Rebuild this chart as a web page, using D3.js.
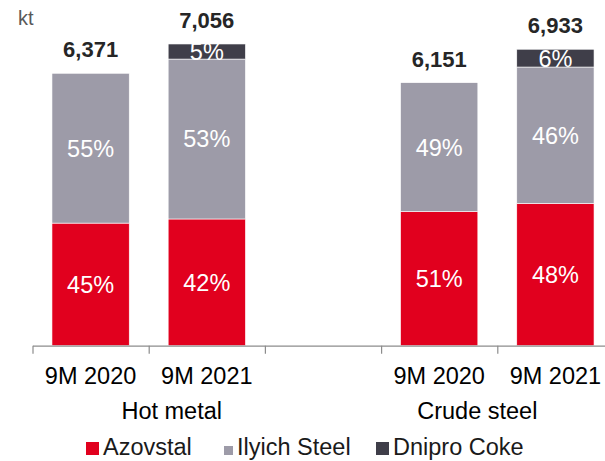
<!DOCTYPE html>
<html>
<head>
<meta charset="utf-8">
<script src="https://cdn.jsdelivr.net/npm/d3@7"></script>
<style>
  body { margin: 0; background: #fff; }
  text { font-family: "Liberation Sans", Arial, sans-serif; }
</style>
</head>
<body>
<div id="vis1"></div>
<script>
// data
var periods = ["9M 2020", "9M 2021", "9M 2020", "9M 2021"];
var groups = ["Hot metal", "Crude steel"];
var slots = [0, 1, 3, 4];            // slot 2 is the empty gap between the groups
var totals = [6371, 7056, 6151, 6933];
var azovstal = [45, 42, 51, 48];     // % of total
var ilyich = [55, 53, 49, 46];
var dnipro = [0, 5, 0, 6];
var seriesNames = ["Azovstal", "Ilyich Steel", "Dnipro Coke"];
var seriesColors = ["#e1001e", "#9d9ba8", "#3f3e49"];

var w = 605, h = 461;
var base = 345.7;

var svg = d3.select("#vis1")
    .append("svg")
    .attr("width", w)
    .attr("height", h);

var xs = d3.scaleLinear().domain([0, 5]).range([32.5, 613.5]);
var step = xs(1) - xs(0);
var barW = step * 0.665;
var y = d3.scaleLinear().domain([0, 8000]).range([base, base - 8000 * 0.04276]);

function cx(i) { return xs(slots[i] + 0.5); }

// stack segments
var shares = [azovstal, ilyich, dnipro];
var segs = [];
totals.forEach(function (t, i) {
    var acc = 0;
    shares.forEach(function (s, k) {
        var v = t * s[i] / 100;
        if (v > 0) segs.push({ i: i, k: k, y0: acc, y1: acc + v, pct: s[i] });
        acc += v;
    });
});

svg.selectAll("rect.seg")
    .data(segs)
    .enter()
    .append("rect")
    .attr("class", "seg")
    .attr("x", function (d) { return cx(d.i) - barW / 2; })
    .attr("width", barW)
    .attr("y", function (d) { return y(d.y1); })
    .attr("height", function (d) { return y(d.y0) - y(d.y1); })
    .attr("fill", function (d) { return seriesColors[d.k]; })
    .attr("stroke", "#fff")
    .attr("stroke-width", 0.6);

svg.selectAll("text.pct")
    .data(segs)
    .enter()
    .append("text")
    .attr("class", "pct")
    .attr("x", function (d) { return cx(d.i); })
    .attr("y", function (d) { return (y(d.y0) + y(d.y1)) / 2; })
    .attr("dy", "0.36em")
    .attr("text-anchor", "middle")
    .attr("font-size", 23.5)
    .attr("fill", "#fff")
    .text(function (d) { return d.pct + "%"; });

// totals above bars
svg.selectAll("text.total")
    .data(totals)
    .enter()
    .append("text")
    .attr("class", "total")
    .attr("x", function (d, i) { return cx(i); })
    .attr("y", function (d) { return y(d) - 16; })
    .attr("text-anchor", "middle")
    .attr("font-size", 22)
    .attr("font-weight", "bold")
    .attr("fill", "#262626")
    .text(function (d) { return d3.format(",")(d); });

// axis with ticks between slots
var axis = svg.append("g")
    .attr("transform", "translate(0," + base + ")")
    .call(d3.axisBottom(xs).tickValues([0, 1, 2, 3, 4, 5]).tickSize(8).tickSizeOuter(0).tickFormat(""));
axis.select(".domain").attr("stroke", "#8c8c8c").attr("stroke-width", 1.2);
axis.selectAll(".tick line").attr("stroke", "#8c8c8c").attr("stroke-width", 1.2);

svg.selectAll("text.period")
    .data(periods)
    .enter()
    .append("text")
    .attr("class", "period")
    .attr("x", function (d, i) { return cx(i); })
    .attr("y", 384)
    .attr("text-anchor", "middle")
    .attr("font-size", 23.5)
    .attr("fill", "#000")
    .text(function (d) { return d; });

var groupShift = [23, -20];
svg.selectAll("text.group")
    .data(groups)
    .enter()
    .append("text")
    .attr("class", "group")
    .attr("x", function (d, g) { return (cx(g * 2) + cx(g * 2 + 1)) / 2 + groupShift[g]; })
    .attr("y", 419)
    .attr("text-anchor", "middle")
    .attr("font-size", 23.5)
    .attr("fill", "#000")
    .text(function (d) { return d; });

svg.append("text")
    .attr("x", 18)
    .attr("y", 25)
    .attr("font-size", 20)
    .attr("fill", "#595959")
    .text("kt");

// legend
var legX = [86, 224, 376];
var legSq = [13, 9, 13];
var leg = svg.selectAll("g.leg")
    .data(seriesNames)
    .enter()
    .append("g")
    .attr("class", "leg")
    .attr("transform", function (d, k) { return "translate(" + legX[k] + ",0)"; });
leg.append("rect")
    .attr("x", 0)
    .attr("y", function (d, k) { return 455 - legSq[k]; })
    .attr("width", function (d, k) { return legSq[k]; })
    .attr("height", function (d, k) { return legSq[k]; })
    .attr("fill", function (d, k) { return seriesColors[k]; });
leg.append("text")
    .attr("x", function (d, k) { return legSq[k] + 4; })
    .attr("y", 455)
    .attr("font-size", 23.5)
    .attr("fill", "#1a1a1a")
    .text(function (d) { return d; });
</script>
</body>
</html>
